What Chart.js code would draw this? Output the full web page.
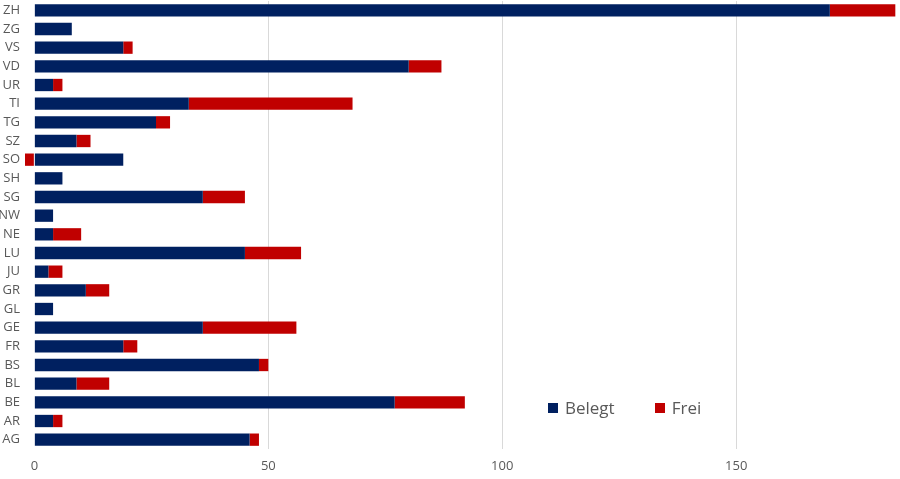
<!DOCTYPE html>
<html>
<head>
<meta charset="utf-8">
<script src="https://cdn.jsdelivr.net/npm/chart.js@4"></script>
<style>
    body { margin: 0; background: #fff; }
    #wrap { position: relative; width: 900px; height: 479px; }
    #legend {
        position: absolute; left: 548px; top: 396px;
        font-family: "Open Sans", sans-serif; font-size: 17px; color: #595959;
        display: flex; align-items: center;
    }
    #legend span.box { display: inline-block; width: 10px; height: 10px; margin-right: 7px; }
    #legend span.item { display: flex; align-items: center; margin-right: 40px; }
</style>
</head>
<body>
<div id="wrap">
    <canvas id="chart" width="900" height="479"></canvas>
    <div id="legend">
        <span class="item"><span class="box" style="background:#002060"></span>Belegt</span>
        <span class="item"><span class="box" style="background:#C00000"></span>Frei</span>
    </div>
</div>
<script>
const cantons = ['ZH', 'ZG', 'VS', 'VD', 'UR', 'TI', 'TG', 'SZ', 'SO', 'SH', 'SG', 'NW', 'NE',
    'LU', 'JU', 'GR', 'GL', 'GE', 'FR', 'BS', 'BL', 'BE', 'AR', 'AG'];
const belegt = [170, 8, 19, 80, 4, 33, 26, 9, 19, 6, 36, 4, 4, 45, 3, 11, 4, 36, 19, 48, 9, 77, 4, 46];
const frei = [14, 0, 2, 7, 2, 35, 3, 3, -2, 0, 9, 0, 6, 12, 3, 5, 0, 20, 3, 2, 7, 15, 2, 2];
const xTicks = [0, 50, 100, 150];

const grey = '#595959';

new Chart(document.getElementById('chart'), {
    type: 'bar',
    data: {
        labels: cantons,
        datasets: [
            { label: 'Belegt', data: belegt, backgroundColor: '#002060' },
            { label: 'Frei', data: frei, backgroundColor: '#C00000' }
        ]
    },
    options: {
        indexAxis: 'y',
        responsive: false,
        animation: false,
        barPercentage: 0.66,
        categoryPercentage: 1,
        layout: { padding: { top: 1, right: 0, bottom: 0, left: 0 } },
        plugins: {
            legend: { display: false },
            tooltip: { enabled: false }
        },
        scales: {
            x: {
                stacked: true,
                min: -2,
                max: 185,
                afterBuildTicks: scale => {
                    scale.ticks = xTicks.map(v => ({ value: v }));
                },
                afterFit: scale => { scale.height = 30; },
                border: { display: false },
                grid: {
                    drawTicks: false,
                    color: ctx => ctx.tick && ctx.tick.value === 0 ? 'rgba(0,0,0,0)' : '#d9d9d9'
                },
                ticks: {
                    padding: 9,
                    color: grey,
                    font: { family: 'Open Sans', size: 13 }
                }
            },
            y: {
                stacked: true,
                afterFit: scale => {
                    scale.width = 25;
                    scale.paddingTop = 0;
                    scale.paddingBottom = 0;
                },
                border: { display: false },
                grid: { display: false, drawTicks: false },
                ticks: {
                    padding: 5,
                    color: grey,
                    autoSkip: false,
                    font: { family: 'Open Sans', size: 13 }
                }
            }
        }
    }
});
</script>
</body>
</html>
